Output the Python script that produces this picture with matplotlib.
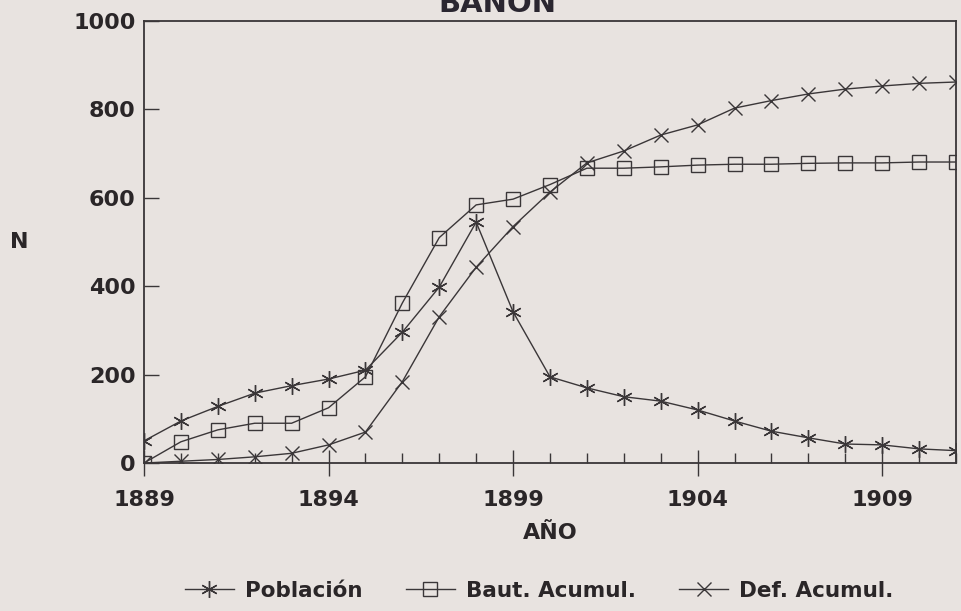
import matplotlib
matplotlib.use('Agg')
import matplotlib.pyplot as plt

years = list(range(1889, 1912))
poblacion = [50, 95, 128, 158, 175, 190, 210, 296, 398, 545, 342, 195, 170, 150, 140, 120, 95, 72, 57, 43, 41, 32, 28]
baut_acumul = [0, 48, 75, 90, 90, 125, 195, 362, 510, 584, 597, 630, 667, 667, 670, 674, 676, 676, 678, 679, 679, 681, 681]
def_acumul = [0, 4, 8, 14, 22, 41, 70, 184, 331, 443, 535, 613, 679, 706, 742, 765, 803, 820, 835, 846, 853, 859, 862]

bg = '#e8e3e0'
ink = '#3a3638'
txt = '#2a2628'

fig = plt.figure(figsize=(9.61, 6.11), dpi=100, facecolor=bg)
ax = fig.add_axes([0.1498, 0.2422, 0.845, 0.7234])
ax.set_facecolor(bg)

ax.plot(years, poblacion, color=ink, lw=1.0, marker=(6, 2, 0), ms=12, mew=1.0, label='Población')
ax.plot(years, baut_acumul, color=ink, lw=1.0, marker='s', ms=10, mfc='none', mew=1.0, label='Baut. Acumul.')
ax.plot(years, def_acumul, color=ink, lw=1.0, marker='x', ms=9.5, mew=1.0, label='Def. Acumul.')

ax.set_xlim(1889, 1911)
ax.set_ylim(0, 1000)
for s in ax.spines.values():
    s.set_color(ink)
    s.set_linewidth(1.3)

ax.set_yticks([0, 200, 400, 600, 800, 1000])
ax.set_xticks([1889, 1894, 1899, 1904, 1909])
ax.set_xticks(years, minor=True)
ax.tick_params(axis='y', direction='in', length=11, width=1.0, color=ink, pad=6,
               labelsize=16, labelcolor=txt)
ax.tick_params(axis='x', which='major', direction='inout', length=19, width=1.0, color=ink,
               pad=10, labelsize=16, labelcolor=txt)
ax.tick_params(axis='x', which='minor', direction='in', length=7, width=1.0, color=ink)
for lab in ax.get_xticklabels() + ax.get_yticklabels():
    lab.set_fontweight('bold')

ax.set_xlabel('AÑO', fontsize=16, fontweight='bold', color=txt, labelpad=9)
fig.text(0.02, 0.604, 'N', fontsize=16, fontweight='bold', color=txt, ha='center', va='center')

fig.text(0.518, 1 - 12 / 611, 'BAÑÓN', fontsize=21, fontweight='bold', color='#2a2630',
         ha='center', va='baseline')

leg = fig.legend(loc='center', bbox_to_anchor=(0.561, 1 - 591 / 611), ncol=3, frameon=False,
                 fontsize=15.5, handlelength=2.3, columnspacing=2.0, handletextpad=0.5)
for t in leg.get_texts():
    t.set_fontweight('bold')
    t.set_color(txt)

fig.savefig('out.png', dpi=100, facecolor=bg)
